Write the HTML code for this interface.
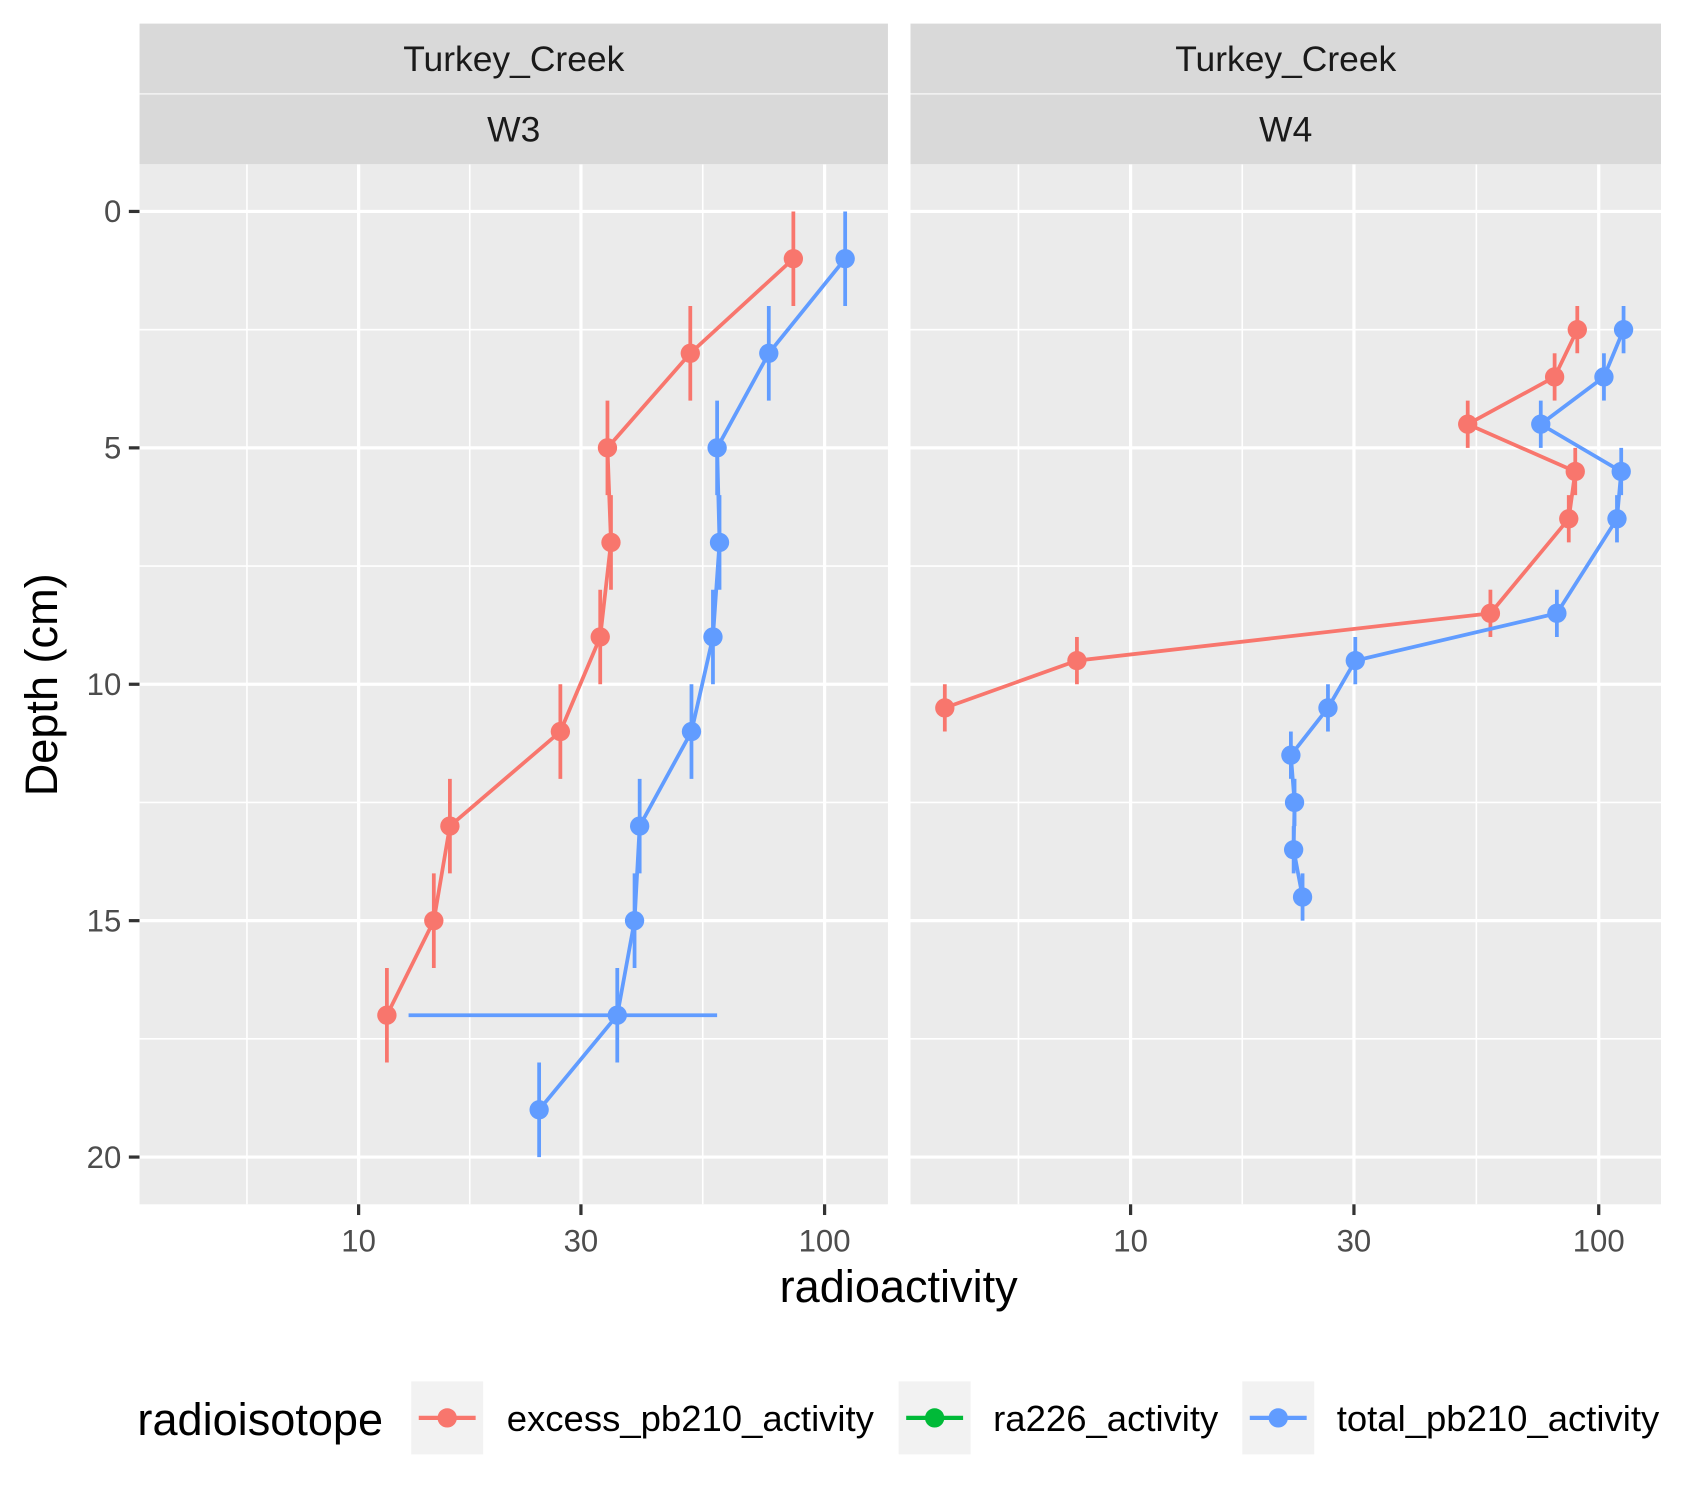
<!DOCTYPE html>
<html><head><meta charset="utf-8"><style>
html,body{margin:0;padding:0;background:#fff}
svg{display:block}
text{font-family:"Liberation Sans",Arial,sans-serif}
</style></head><body>
<svg id="chart" width="1683" height="1500" viewBox="0 0 1567.5 1397.5" preserveAspectRatio="none" xmlns="http://www.w3.org/2000/svg">
<g id="panels"></g>
<text x="837" y="1213" font-size="42" text-anchor="middle" fill="#000">radioactivity</text>
<text transform="translate(53,638) rotate(-90)" font-size="42" text-anchor="middle" fill="#000">Depth (cm)</text>
<g>
<text x="128" y="1337" font-size="42" fill="#000">radioisotope</text>
<g>
<rect x="383" y="1287" width="67" height="68" fill="#f2f2f2"/><line x1="390" y1="1321" x2="443" y2="1321" stroke="#F8766D" stroke-width="4"/><circle cx="416.5" cy="1321" r="9" fill="#F8766D"/>
<text x="472" y="1333" font-size="34" fill="#000">excess_pb210_activity</text></g>
<g>
<rect x="837" y="1287" width="67" height="68" fill="#f2f2f2"/><line x1="844" y1="1321" x2="897" y2="1321" stroke="#00BA38" stroke-width="4"/><circle cx="870.5" cy="1321" r="9" fill="#00BA38"/>
<text x="925" y="1333" font-size="34" fill="#000">ra226_activity</text></g>
<g>
<rect x="1157" y="1287" width="67" height="68" fill="#f2f2f2"/><line x1="1164" y1="1321" x2="1217" y2="1321" stroke="#619CFF" stroke-width="4"/><circle cx="1190.5" cy="1321" r="9" fill="#619CFF"/>
<text x="1245" y="1333" font-size="34" fill="#000">total_pb210_activity</text></g>
</g>
</svg>
<script>
const xTicks=[10,30,100];
const xTickLabels=["10","30","100"];
const yTicks=[0,5,10,15,20];
const w3Depth=[1,3,5,7,9,11,13,15,17];
const w3Excess=[85.7,51.5,34.2,34.8,33.0,27.1,15.7,14.5,11.5];
const w3TotalDepth=[1,3,5,7,9,11,13,15,17,19];
const w3Total=[110.7,75.9,58.8,59.5,57.6,51.8,40.1,39.1,35.9,24.4];
const w3TotalXErrMin=[null,null,null,null,null,null,null,null,12.8,null];
const w3TotalXErrMax=[null,null,null,null,null,null,null,null,58.8,null];
const w4Depth=[2.5,3.5,4.5,5.5,6.5,8.5,9.5,10.5];
const w4Excess=[90.0,80.5,52.5,89.1,86.3,58.7,7.68,4.01];
const w4TotalDepth=[2.5,3.5,4.5,5.5,6.5,8.5,9.5,10.5,11.5,12.5,13.5,14.5];
const w4Total=[113,102.6,75.2,111.7,109.4,81.4,30.2,26.4,22.0,22.4,22.3,23.3];

const NS="http://www.w3.org/2000/svg";
const top0=153,bot0=1122;
const yS=d=>197+d*44.05;
const panelsG=document.getElementById('panels');
function mk(tag,attrs,parent){const e=document.createElementNS(NS,tag);for(const k in attrs)e.setAttribute(k,attrs[k]);parent.appendChild(e);return e;}
function panel(name,x0,x1,x10,pxDec,series,strip){
  const g=mk('g',{},panelsG);
  
  
  const xS=v=>x10+(Math.log10(v)-1)*pxDec;
  const bg=mk('rect',{x:x0,y:top0,width:x1-x0,height:bot0-top0,fill:'#ebebeb'},g);
  
  
  const minors=[Math.pow(10,1-(104/434)),Math.sqrt(10*30),Math.sqrt(30*100)];
  minors.forEach(v=>mk('line',{x1:xS(v),x2:xS(v),y1:top0,y2:bot0,stroke:'#fff','stroke-width':1.5},g));
  for(let i=0;i<yTicks.length-1;i++){const d=(yTicks[i]+yTicks[i+1])/2;mk('line',{x1:x0,x2:x1,y1:yS(d),y2:yS(d),stroke:'#fff','stroke-width':1.5},g);}
  xTicks.forEach((v,i)=>{
    mk('line',{x1:xS(v),x2:xS(v),y1:top0,y2:bot0,stroke:'#fff','stroke-width':3},g);
    mk('line',{x1:xS(v),x2:xS(v),y1:bot0,y2:bot0+10,stroke:'#333','stroke-width':3},g);
    const t=mk('text',{x:xS(v),y:1166,'font-size':29,'text-anchor':'middle',fill:'#4d4d4d'},g);
    t.textContent=xTickLabels[i];
    
    
  });
  yTicks.forEach(d=>mk('line',{x1:x0,x2:x1,y1:yS(d),y2:yS(d),stroke:'#fff','stroke-width':3},g));
  mk('rect',{x:x0,y:22,width:x1-x0,height:65,fill:'#d9d9d9'},g);
  mk('rect',{x:x0,y:88,width:x1-x0,height:65,fill:'#d9d9d9'},g);
  const s1=mk('text',{x:(x0+x1)/2,y:66,'font-size':33,'text-anchor':'middle',fill:'#1a1a1a'},g);
  s1.textContent='Turkey_Creek';
  
  
  const s2=mk('text',{x:(x0+x1)/2,y:132,'font-size':33,'text-anchor':'middle',fill:'#1a1a1a'},g);
  s2.textContent=strip;
  
  
  series.forEach(s=>{
    const sg=mk('g',{},g);
    
    
    const pts=s.vals.map((v,i)=>xS(v)+','+yS(s.depth[i])).join(' ');
    mk('polyline',{points:pts,fill:'none',stroke:s.color,'stroke-width':3.5},sg);
    s.vals.forEach((v,i)=>{
      const d=s.depth[i];
      mk('line',{x1:xS(v),x2:xS(v),y1:yS(d-s.err),y2:yS(d+s.err),stroke:s.color,'stroke-width':3.5},sg);
      if(s.xmin&&s.xmin[i]!=null){mk('line',{x1:xS(s.xmin[i]),x2:xS(s.xmax[i]),y1:yS(d),y2:yS(d),stroke:s.color,'stroke-width':3.5},sg);}
      const c=mk('circle',{cx:xS(v),cy:yS(d),r:9,fill:s.color},sg);
      
      
    });
  });
}
const yg=mk('g',{},panelsG);


yTicks.forEach(d=>{
  mk('line',{x1:120,x2:130,y1:yS(d),y2:yS(d),stroke:'#333','stroke-width':3},yg);
  const t=mk('text',{x:113,y:yS(d)+10,'font-size':29,'text-anchor':'end',fill:'#4d4d4d'},yg);
  t.textContent=String(d);
  
  
});
panel('panel-w3',130,827,334,434,[
  {name:'series-excess-w3',vals:w3Excess,depth:w3Depth,err:1,color:'#F8766D'},
  {name:'series-total-w3',vals:w3Total,depth:w3TotalDepth,err:1,color:'#619CFF',xmin:w3TotalXErrMin,xmax:w3TotalXErrMax}
],'W3');
panel('panel-w4',848,1547,1053,436,[
  {name:'series-excess-w4',vals:w4Excess,depth:w4Depth,err:0.5,color:'#F8766D'},
  {name:'series-total-w4',vals:w4Total,depth:w4TotalDepth,err:0.5,color:'#619CFF'}
],'W4');
</script>
</body></html>
